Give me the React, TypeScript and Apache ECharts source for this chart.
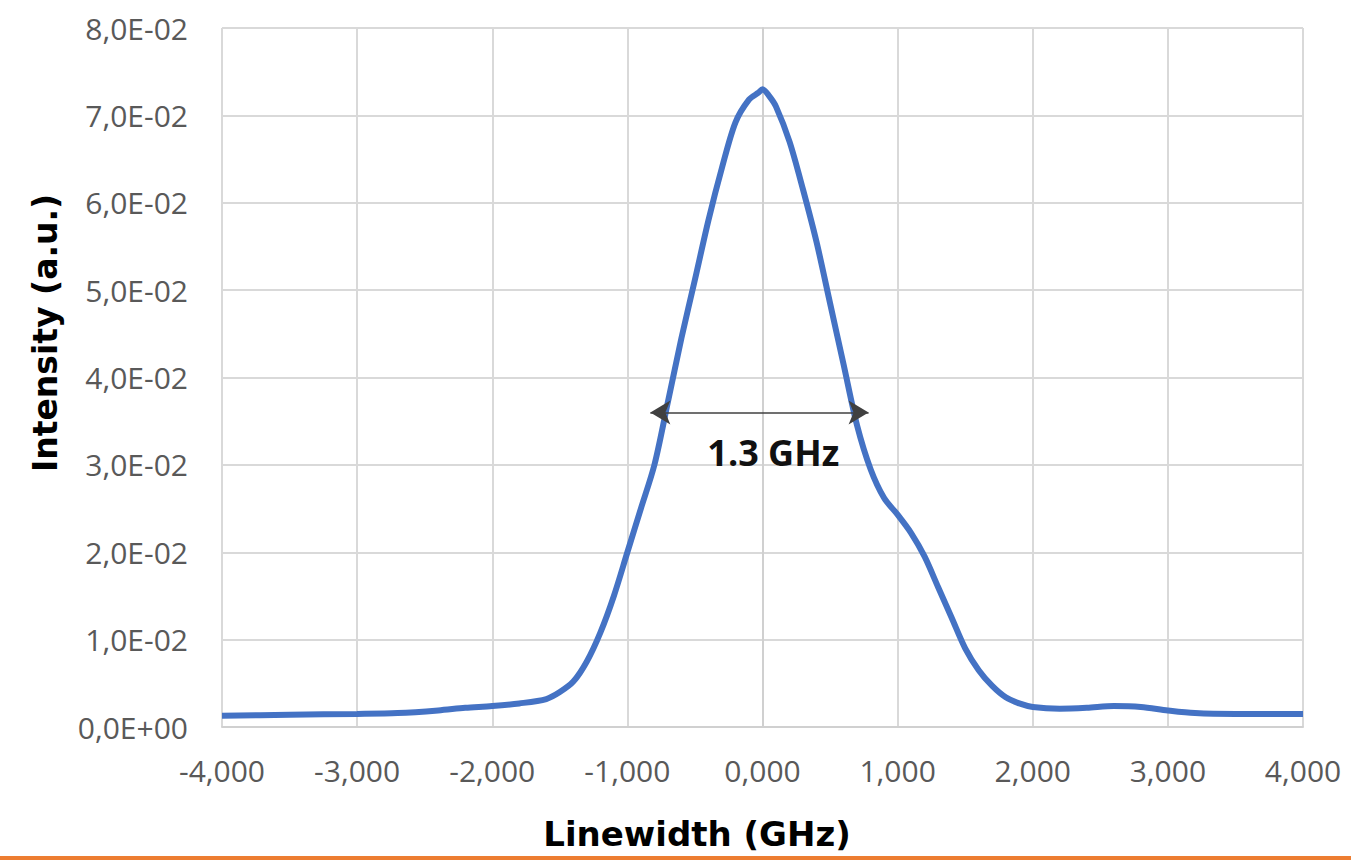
import React, { useEffect, useRef } from "react";
import * as echarts from "echarts";

const xValues = [-4000, -3500, -3000, -2700, -2400, -2200, -2000, -1800, -1600, -1500, -1400, -1300, -1200, -1100, -1000, -900, -800, -700, -600, -500, -400, -300, -200, -100, -30, 0, 50, 100, 200, 300, 400, 500, 600, 700, 800, 900, 1000, 1100, 1200, 1300, 1400, 1500, 1600, 1700, 1800, 1900, 2000, 2200, 2400, 2600, 2800, 3000, 3200, 3500, 4000];
const yValues = [0.0013, 0.0014, 0.0015, 0.0016, 0.0019, 0.0022, 0.0024, 0.0027, 0.0032, 0.0040, 0.0052, 0.0075, 0.0108, 0.0150, 0.0200, 0.0250, 0.0300, 0.0372, 0.0445, 0.0512, 0.0580, 0.0640, 0.0692, 0.0718, 0.0726, 0.0730, 0.0722, 0.0710, 0.0670, 0.0615, 0.0555, 0.0485, 0.0415, 0.0345, 0.0295, 0.0262, 0.0243, 0.0222, 0.0195, 0.0160, 0.0125, 0.0090, 0.0065, 0.0047, 0.0034, 0.0027, 0.0023, 0.0021, 0.0022, 0.0024, 0.0023, 0.0019, 0.0016, 0.0015, 0.0015];
const arrowStart = [-830, 0.036];
const arrowEnd = [785, 0.036];
const annotationPos = [80, 0.0293];
const annotationText = "1.3 GHz";
const yTitle = "Intensity (a.u.)";
const xTitle = "Linewidth (GHz)";

function fmtY(v: number): string {
  if (v === 0) return "0,0E+00";
  const e = Math.floor(Math.log10(Math.abs(v)) + 1e-9);
  const m = v / Math.pow(10, e);
  const ae = Math.abs(e);
  return m.toFixed(1).replace(".", ",") + "E" + (e < 0 ? "-" : "+") + (ae < 10 ? "0" + ae : String(ae));
}
function fmtX(v: number): string {
  return (v / 1000).toFixed(3).replace(".", ",");
}

export default function App() {
  const ref = useRef<HTMLDivElement>(null);
  useEffect(() => {
    document.body.style.margin = "0";
    const chart = echarts.init(ref.current!, null, { renderer: "svg" });
    const data = xValues.map((x, i) => [x, yValues[i]]);
    chart.setOption({
      animation: false,
      backgroundColor: "#ffffff",
      grid: { left: 222, right: 48, top: 28, bottom: 133 },
      xAxis: {
        type: "value",
        min: -4000,
        max: 4000,
        interval: 1000,
        axisLine: { show: true, lineStyle: { color: "#d0d0d0", width: 2 } },
        axisTick: { show: false },
        splitLine: { show: true, lineStyle: { color: "#d9d9d9", width: 2 } },
        axisLabel: { formatter: fmtX, color: "#595959", fontSize: 30, fontFamily: "Open Sans", margin: 28 },
      },
      yAxis: {
        type: "value",
        min: 0,
        max: 0.08,
        interval: 0.01,
        axisLine: { show: true, lineStyle: { color: "#d0d0d0", width: 2 } },
        axisTick: { show: false },
        splitLine: { show: true, lineStyle: { color: "#d9d9d9", width: 2 } },
        axisLabel: { formatter: fmtY, color: "#595959", fontSize: 30, fontFamily: "Open Sans", margin: 34 },
      },
      series: [
        {
          type: "line",
          data,
          showSymbol: false,
          smooth: 0.3,
          lineStyle: { color: "#4472C4", width: 6 },
          markLine: {
            silent: true,
            symbol: ["arrow", "arrow"],
            symbolSize: [18, 20],
            label: { show: false },
            lineStyle: { color: "#404040", width: 1.5, type: "solid" },
            itemStyle: { color: "#595959" },
            data: [[{ coord: arrowStart, itemStyle: { color: "#595959" } }, { coord: arrowEnd, itemStyle: { color: "#595959" } }]],
          },
        },
        {
          type: "scatter",
          data: [annotationPos],
          symbolSize: 1,
          itemStyle: { color: "rgba(0,0,0,0)", opacity: 1 },
          silent: true,
          label: {
            show: true,
            position: "top",
            distance: 0,
            formatter: annotationText,
            color: "#111111",
            opacity: 1,
            fontSize: 36,
            fontWeight: "bold",
            fontFamily: "Open Sans",
          },
        },
      ],
      graphic: [
        {
          type: "text",
          x: 45,
          y: 333,
          rotation: Math.PI / 2,
          style: {
            text: yTitle,
            fill: "#000000",
            fontSize: 33,
            fontWeight: "bold",
            fontFamily: "DejaVu Sans",
            align: "center",
            verticalAlign: "middle",
          },
        },
        {
          type: "text",
          x: 697,
          y: 834,
          style: {
            text: xTitle,
            fill: "#000000",
            fontSize: 34,
            fontWeight: "bold",
            fontFamily: "DejaVu Sans",
            align: "center",
            verticalAlign: "middle",
          },
        },
        {
          type: "rect",
          shape: { x: 0, y: 856, width: 1351, height: 4 },
          style: { fill: "#ED7D31" },
        },
      ],
    });
    return () => chart.dispose();
  }, []);
  return <div ref={ref} style={{ width: 1351, height: 860 }} />;
}
